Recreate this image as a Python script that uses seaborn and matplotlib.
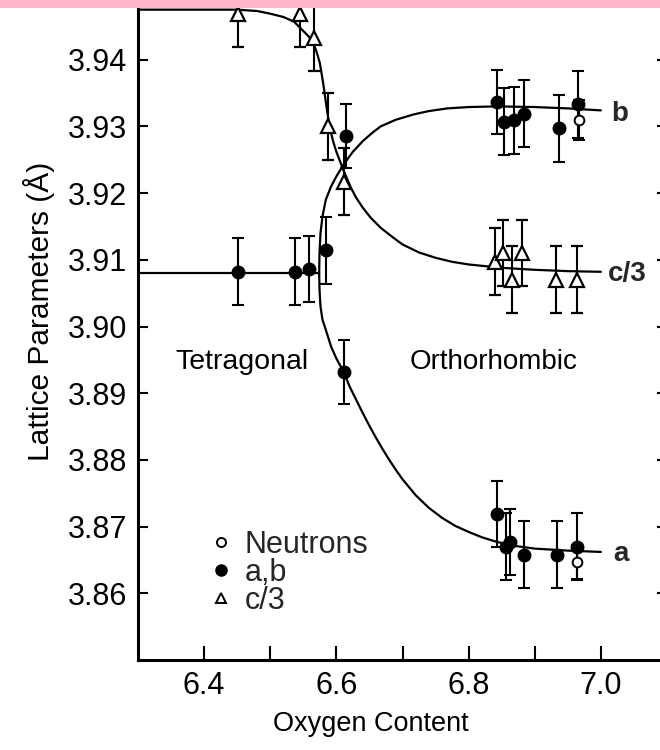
import matplotlib
matplotlib.use("Agg")
import matplotlib.pyplot as plt
from matplotlib.lines import Line2D
from matplotlib.patches import Rectangle
import numpy as np
import pandas as pd
import seaborn as sns

# ---- measured lattice parameters (Angstrom) vs oxygen content ----
tet_x = [6.451, 6.538, 6.559, 6.584]
tet_y = [3.9082, 3.9082, 3.9086, 3.9114]
tet_err = [0.005, 0.005, 0.005, 0.005]

b_x = [6.614, 6.843, 6.854, 6.869, 6.884, 6.936, 6.966]
b_y = [3.9285, 3.9337, 3.9307, 3.9309, 3.9319, 3.9297, 3.9333]
b_err = [0.0048, 0.0048, 0.005, 0.005, 0.005, 0.005, 0.005]

a_x = [6.611, 6.843, 6.857, 6.863, 6.883, 6.934, 6.964]
a_y = [3.8932, 3.8719, 3.8670, 3.8677, 3.8658, 3.8658, 3.8670]
a_err = [0.0048, 0.005, 0.005, 0.005, 0.005, 0.005, 0.005]

neut_x = [6.967, 6.964]
neut_y = [3.9310, 3.8647]
neut_err = [0.003, 0.0025]

c3_x = [6.451, 6.545, 6.566, 6.587, 6.611, 6.840, 6.852, 6.865, 6.881, 6.932, 6.964]
c3_y = [3.9469, 3.9469, 3.9433, 3.9300, 3.9217, 3.9097, 3.9110, 3.9070, 3.9110, 3.9070, 3.9070]
c3_err = [0.005] * 11

# ---- guide-to-the-eye curves ----
tline_x = [6.30, 6.45, 6.574]
tline_y = [3.9080, 3.9080, 3.9080]

bcurve_x = [6.574, 6.5745, 6.576, 6.579, 6.584, 6.592, 6.600, 6.611, 6.625, 6.640, 6.655, 6.667,
            6.690, 6.717, 6.740, 6.768, 6.800, 6.843, 6.900, 6.950, 7.000]
bcurve_y = [3.9080, 3.9110, 3.9140, 3.9165, 3.9190, 3.9210, 3.9225, 3.9243, 3.9262, 3.9278, 3.9291,
            3.9300, 3.9310, 3.9318, 3.9323, 3.9327, 3.9329, 3.9330, 3.9329, 3.9327, 3.9324]

acurve_x = [6.574, 6.5745, 6.576, 6.579, 6.584, 6.592, 6.600, 6.611, 6.620, 6.630, 6.640, 6.650,
            6.660, 6.670, 6.680, 6.690, 6.700, 6.720, 6.740, 6.760, 6.780, 6.800, 6.820, 6.843,
            6.870, 6.900, 6.950, 7.000]
acurve_y = [3.9080, 3.9055, 3.9030, 3.9010, 3.8995, 3.8970, 3.8952, 3.8932, 3.8910, 3.8890, 3.8870,
            3.8851, 3.8833, 3.8816, 3.8800, 3.8785, 3.8771, 3.8747, 3.8728, 3.8713, 3.8701, 3.8692,
            3.8684, 3.8677, 3.8671, 3.8667, 3.8664, 3.8662]

c3curve_x = [6.30, 6.45, 6.48, 6.50, 6.52, 6.536, 6.55, 6.558, 6.565, 6.570, 6.575, 6.580, 6.585,
             6.590, 6.595, 6.600, 6.610, 6.622, 6.630, 6.640, 6.652, 6.667, 6.685, 6.700, 6.725,
             6.750, 6.775, 6.800, 6.850, 6.900, 6.950, 7.000]
c3curve_y = [3.9475, 3.9475, 3.9473, 3.9469, 3.9464, 3.9457, 3.9443, 3.9435, 3.9425, 3.9412, 3.9395,
             3.9365, 3.9330, 3.9298, 3.9278, 3.9262, 3.9236, 3.9208, 3.9193, 3.9178, 3.9163, 3.9148,
             3.9134, 3.9123, 3.9111, 3.9103, 3.9097, 3.9093, 3.9088, 3.9085, 3.9083, 3.9082]

x_ticks = [6.4, 6.5, 6.6, 6.7, 6.8, 6.9, 7.0]
x_ticklabels = ["6.4", "", "6.6", "", "6.8", "", "7.0"]
y_ticks = [3.86, 3.87, 3.88, 3.89, 3.90, 3.91, 3.92, 3.93, 3.94]

sns.set_theme(style="ticks")
plt.rcParams["font.family"] = ["Liberation Sans", "DejaVu Sans"]

fig = plt.figure(figsize=(6.6, 7.5), dpi=100)
W, H = 660, 750
ax = fig.add_axes([138 / W, 90 / H, (667 - 138) / W, 667 / H])

lw_curve = 1.6
for cx, cy in [(tline_x, tline_y), (bcurve_x, bcurve_y), (acurve_x, acurve_y), (c3curve_x, c3curve_y)]:
    sns.lineplot(x=cx, y=cy, ax=ax, color="black", linewidth=lw_curve,
                 estimator=None, sort=False, legend=False,
                 solid_joinstyle="round", solid_capstyle="round")

eb_kw = dict(ecolor="black", elinewidth=1.5, capsize=4.5, capthick=1.5, linestyle="none")
ax.errorbar(tet_x, tet_y, yerr=tet_err, marker="o", ms=9, mfc="black", mec="black", **eb_kw)
ax.errorbar(b_x, b_y, yerr=b_err, marker="o", ms=9, mfc="black", mec="black", **eb_kw)
ax.errorbar(a_x, a_y, yerr=a_err, marker="o", ms=9, mfc="black", mec="black", **eb_kw)
ax.errorbar(c3_x, c3_y, yerr=c3_err, marker="^", ms=10, mfc="white", mec="black", mew=1.6,
            zorder=4, **eb_kw)
ax.errorbar(neut_x, neut_y, yerr=neut_err, marker="o", ms=7, mfc="white", mec="black", mew=1.4,
            zorder=5, **eb_kw)

ax.set_xlim(6.3, 7.1)
ax.set_ylim(3.85, 3.95)
ax.set_xticks(x_ticks)
ax.set_xticklabels(x_ticklabels)
ax.set_yticks(y_ticks)
ax.set_yticklabels([f"{v:.2f}" for v in y_ticks])

for side in ["left", "bottom", "right", "top"]:
    ax.spines[side].set_visible(True)
    ax.spines[side].set_linewidth(2.2)
    ax.spines[side].set_color("black")
ax.tick_params(axis="both", direction="in", colors="black", width=1.5, labelsize=22,
               right=True, top=True)
ax.tick_params(axis="x", length=10, pad=8)
ax.tick_params(axis="y", length=7.5, pad=8)

ax.set_xlabel("Oxygen Content", fontsize=19.5, color="black")
ax.set_ylabel("Lattice Parameters (Å)", fontsize=21.5, color="black")
ax.xaxis.set_label_coords(0.44, -0.077)
ax.yaxis.set_label_coords(-0.157, 0.522)

ax.text(6.356, 3.8947, "Tetragonal", fontsize=20.5, va="center", ha="left", color="black")
ax.text(6.711, 3.8947, "Orthorhombic", fontsize=20, va="center", ha="left", color="black")

ax.text(7.015, 3.9319, "b", fontsize=20, fontweight="bold", va="center", ha="left")
ax.text(7.011, 3.9079, "c/3", fontsize=20, fontweight="bold", va="center", ha="left")
ax.text(7.018, 3.8659, "a", fontsize=20, fontweight="bold", va="center", ha="left")

handles = [
    Line2D([], [], marker="o", ls="none", ms=6.5, mfc="white", mec="black", mew=1.4),
    Line2D([], [], marker="o", ls="none", ms=8, mfc="black", mec="black"),
    Line2D([], [], marker="^", ls="none", ms=7, mfc="white", mec="black", mew=1.4),
]
ax.legend(handles, ["Neutrons", "a,b", "c/3"], loc="upper left", bbox_to_anchor=(0.13, 0.195),
          frameon=False, fontsize=22, handlelength=0.9, handletextpad=0.35,
          labelspacing=-0.07, borderpad=0.0, borderaxespad=0.0)

fig.patch.set_facecolor("white")
fig.add_artist(Rectangle((0, 1 - 8 / H), 1, 8 / H, transform=fig.transFigure,
                         facecolor="#FFB6C8", edgecolor="none", zorder=10))

fig.savefig("out.png", dpi=100)
